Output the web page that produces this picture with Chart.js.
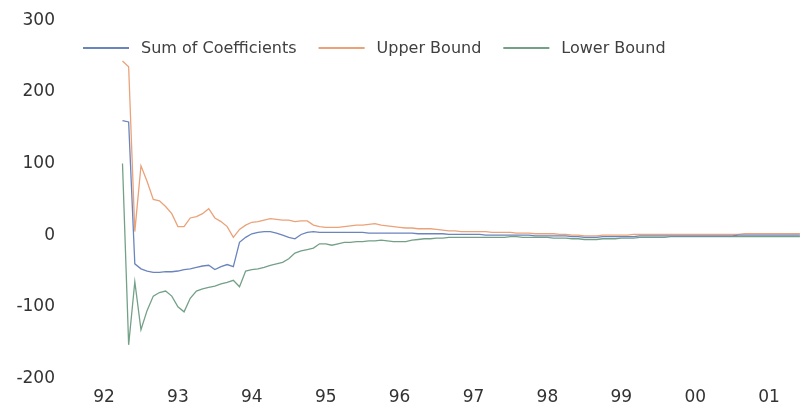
<!DOCTYPE html>
<html><head><meta charset="utf-8">
<script src="https://cdn.jsdelivr.net/npm/chart.js@4/dist/chart.umd.min.js"></script>
<style>html,body{margin:0;padding:0;background:#fff}#wrap{width:802px;height:414px;position:relative}</style>
</head><body><div id="wrap"><canvas id="c"></canvas></div>
<script>
// ---- data ----
const seriesNames = ['Sum of Coefficients', 'Upper Bound', 'Lower Bound'];
const seriesColors = ['#6a84bd', '#eaa279', '#74a088'];
// monthly periods, Apr 1992 .. Jun 2001
const months = [];
for (let y = 1992; y <= 2001; y++) {
  for (let m = 1; m <= 12; m++) {
    if ((y === 1992 && m < 4) || (y === 2001 && m > 6)) continue;
    months.push(y + '-' + String(m).padStart(2, '0'));
  }
}
const sumCoef = [
  160, 158, -40, -47, -50, -52, -52, -51, -51,
  -50, -48, -47, -45, -43, -42, -48, -44, -41, -44, -10, -3,
  2, 4, 5, 5, 3, 0, -3, -5, 1, 4, 5, 4,
  4, 4, 4, 4, 4, 4, 4, 3, 3, 3, 3, 3,
  3, 3, 3, 2, 2, 2, 2, 2, 1, 1, 1, 1,
  1, 1, 0, 0, 0, 0, 0, 0, 0, 0, -1, -1,
  -1, -1, -1, -1, -2, -2, -3, -3, -3, -2, -2, -2,
  -2, -2, -2, -1, -1, -1, -1, -1, -1, -1, -1, -1,
  -1, -1, -1, -1, -1, -1, -1, 0, 0, 0, 0, 0,
  0, 0, 0, 0, 0, 0
];
const upperBound = [
  243, 235, 5, 97, 75, 50, 48, 40, 30,
  12, 12, 24, 26, 30, 37, 24, 19, 12, -3, 8, 14,
  18, 19, 21, 23, 22, 21, 21, 19, 20, 20, 14, 12,
  11, 11, 11, 12, 13, 14, 14, 15, 16, 14, 13, 12,
  11, 10, 10, 9, 9, 9, 8, 7, 6, 6, 5, 5,
  5, 5, 5, 4, 4, 4, 4, 3, 3, 3, 2, 2,
  2, 2, 1, 1, 0, 0, -1, -1, -1, 0, 0, 0,
  0, 0, 1, 1, 1, 1, 1, 1, 1, 1, 1, 1,
  1, 1, 1, 1, 1, 1, 1, 1, 2, 2, 2, 2,
  2, 2, 2, 2, 2, 2
];
const lowerBound = [
  100, -153, -65, -132, -105, -85, -80, -78, -85,
  -100, -107, -88, -78, -75, -73, -71, -68, -66, -63, -72, -50,
  -48, -47, -45, -42, -40, -38, -33, -25, -22, -20, -18, -12,
  -12, -14, -12, -10, -10, -9, -9, -8, -8, -7, -8, -9,
  -9, -9, -7, -6, -5, -5, -4, -4, -3, -3, -3, -3,
  -3, -3, -3, -3, -3, -3, -2, -2, -3, -3, -3, -3,
  -3, -4, -4, -4, -5, -5, -6, -6, -6, -5, -5, -5,
  -4, -4, -4, -3, -3, -3, -3, -3, -2, -2, -2, -2,
  -2, -2, -2, -2, -2, -2, -2, -2, -2, -2, -2, -2,
  -2, -2, -2, -2, -2, -2
];
const yearTicks = [1992, 1993, 1994, 1995, 1996, 1997, 1998, 1999, 2000, 2001];
const xTickLabels = ['92', '93', '94', '95', '96', '97', '98', '99', '00', '01'];
const yTickValues = [-200, -100, 0, 100, 200, 300];

// ---- build ----
const toYear = s => { const [y, m] = s.split('-').map(Number); return y + (m - 1) / 12; };
const series = [sumCoef, upperBound, lowerBound];
const datasets = series.map((arr, k) => ({
  label: seriesNames[k],
  data: months.map((t, i) => ({ x: toYear(t), y: arr[i] })),
  borderColor: seriesColors[k],
  backgroundColor: seriesColors[k],
  borderWidth: 1.3,
  pointRadius: 0,
  tension: 0,
  fill: false
}));

const FONT = '"DejaVu Sans", sans-serif';
const legendPlugin = {
  id: 'insideLegend',
  afterDraw(chart) {
    const ctx = chart.ctx;
    ctx.save();
    ctx.font = '16px ' + FONT;
    ctx.textBaseline = 'middle';
    ctx.fillStyle = '#404040';
    let x = 83; const y = 48;
    chart.data.datasets.forEach(ds => {
      ctx.strokeStyle = ds.borderColor;
      ctx.lineWidth = 2;
      ctx.beginPath(); ctx.moveTo(x, y); ctx.lineTo(x + 46, y); ctx.stroke();
      x += 46 + 12;
      ctx.fillText(ds.label, x, y + 1);
      x += ctx.measureText(ds.label).width + 22;
    });
    ctx.restore();
  }
};

new Chart(document.getElementById('c'), {
  type: 'line',
  data: { datasets },
  options: {
    responsive: true,
    maintainAspectRatio: false,
    animation: false,
    layout: { padding: { top: 16, left: 12, right: 0, bottom: 0 } },
    plugins: { legend: { display: false }, tooltip: { enabled: false } },
    scales: {
      x: {
        type: 'linear',
        min: 1991.472,
        max: 2001.445,
        grid: { display: false, drawTicks: false },
        border: { display: false },
        afterBuildTicks: s => { s.ticks = yearTicks.map(v => ({ value: v })); },
        afterFit: s => { s.height = 35.5; },
        ticks: {
          autoSkip: false,
          maxRotation: 0,
          padding: 9,
          color: '#333333',
          font: { family: FONT, size: 17 },
          callback: v => xTickLabels[yearTicks.indexOf(v)]
        }
      },
      y: {
        min: -200,
        max: 300,
        grid: { display: false, drawTicks: false },
        border: { display: false },
        afterBuildTicks: s => { s.ticks = yTickValues.map(v => ({ value: v })); },
        afterFit: s => { s.width = 53; },
        ticks: {
          padding: 10,
          color: '#333333',
          font: { family: FONT, size: 17 }
        }
      }
    }
  },
  plugins: [legendPlugin]
});
</script>
</body></html>
